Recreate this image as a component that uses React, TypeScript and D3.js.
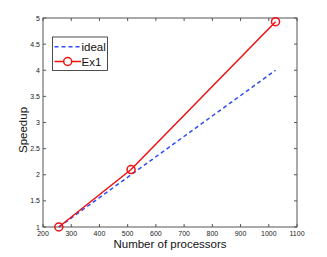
import React from 'react';
import * as d3 from 'd3';

const processors = [256, 512, 1024];
const ideal = [1, 2, 4];
const ex1 = [1, 2.1, 4.93];
const xTicks = [200, 300, 400, 500, 600, 700, 800, 900, 1000, 1100];
const yTicks = [1, 1.5, 2, 2.5, 3, 3.5, 4, 4.5, 5];

const W = 327;
const H = 257;
const m = { left: 43, right: 297, top: 18, bottom: 227 };

const App = () => {
  const x = d3.scaleLinear().domain([200, 1100]).range([m.left, m.right]);
  const y = d3.scaleLinear().domain([1, 5]).range([m.bottom, m.top]);

  const line = d3
    .line<number>()
    .x((d, i) => x(processors[i]))
    .y((d) => y(d));

  const axisColor = '#555';
  const font = 'Liberation Sans, Arial, sans-serif';

  return (
    <div style={{ position: 'fixed', left: 0, top: 0 }}>
      <svg width={W} height={H} style={{ display: 'block', background: '#fff' }}>
        <rect x={m.left} y={m.top} width={m.right - m.left} height={m.bottom - m.top}
          fill="none" stroke={axisColor} strokeWidth={1} />

        {xTicks.map((t) => (
          <g key={'x' + t}>
            <line x1={x(t)} x2={x(t)} y1={m.bottom} y2={m.bottom - 3} stroke={axisColor} />
            <line x1={x(t)} x2={x(t)} y1={m.top} y2={m.top + 3} stroke={axisColor} />
            <text x={x(t)} y={m.bottom + 9} textAnchor="middle" fontSize={7} fontFamily={font} fill="#222">
              {t}
            </text>
          </g>
        ))}

        {yTicks.map((t) => (
          <g key={'y' + t}>
            <line x1={m.left} x2={m.left + 3} y1={y(t)} y2={y(t)} stroke={axisColor} />
            <line x1={m.right} x2={m.right - 3} y1={y(t)} y2={y(t)} stroke={axisColor} />
            <text x={m.left - 3} y={y(t) + 2.5} textAnchor="end" fontSize={7} fontFamily={font} fill="#222">
              {t}
            </text>
          </g>
        ))}

        <path d={line(ideal) || ''} fill="none" stroke="#2f4cf5" strokeWidth={1.5} strokeDasharray="4,3" />
        <path d={line(ex1) || ''} fill="none" stroke="#f01010" strokeWidth={1.5} />
        {ex1.map((v, i) => (
          <circle key={i} cx={x(processors[i])} cy={y(v)} r={4} fill="none" stroke="#f01010" strokeWidth={1.5} />
        ))}

        {/* legend */}
        <rect x={52.5} y={37} width={55} height={33.5} fill="#fff" stroke="#222" strokeWidth={0.8} />
        <line x1={54.5} x2={81} y1={46.7} y2={46.7} stroke="#2f4cf5" strokeWidth={1.5} strokeDasharray="4,3" />
        <text x={81.5} y={51} fontSize={11.5} fontFamily={font} fill="#111">ideal</text>
        <line x1={54.5} x2={81} y1={61.5} y2={61.5} stroke="#f01010" strokeWidth={1.5} />
        <circle cx={67.7} cy={61.5} r={4} fill="#fff" stroke="#f01010" strokeWidth={1.5} />
        <text x={81.5} y={66} fontSize={11.5} fontFamily={font} fill="#111">Ex1</text>

        <text x={(m.left + m.right) / 2} y={248} textAnchor="middle" fontSize={11.5} fontFamily={font} fill="#111">
          Number of processors
        </text>
        <text transform="translate(26.5,130) rotate(-90)" textAnchor="middle"
          fontSize={11.5} fontFamily={font} fill="#111">
          Speedup
        </text>
      </svg>
    </div>
  );
};

export default App;
